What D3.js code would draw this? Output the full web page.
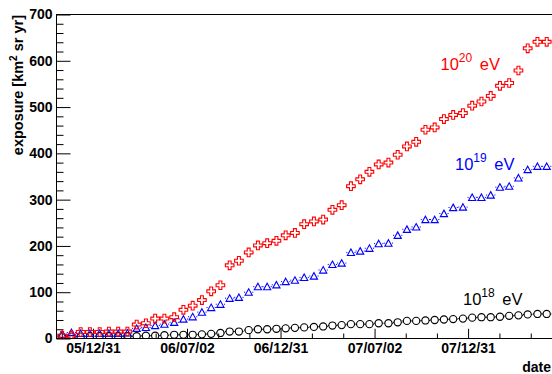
<!DOCTYPE html>
<html>
<head>
<meta charset="utf-8">
<script src="https://cdn.jsdelivr.net/npm/d3@7"></script>
<style>
  body { margin: 0; background: #fff; }
  svg { display: block; }
  text { font-family: "Liberation Sans", Arial, Helvetica, sans-serif; }
</style>
</head>
<body>
<svg id="chart" width="552" height="374"></svg>
<script>
// Accumulated exposure vs. date for three energy thresholds
const dates = [
  "2005-11-01","2005-11-19","2005-12-07","2005-12-25","2006-01-13","2006-01-31","2006-02-18","2006-03-08",
  "2006-03-26","2006-04-13","2006-05-01","2006-05-19","2006-06-07","2006-06-25","2006-07-13","2006-07-31",
  "2006-08-18","2006-09-05","2006-09-23","2006-10-11","2006-10-30","2006-11-17","2006-12-05","2006-12-23",
  "2007-01-10","2007-01-28","2007-02-15","2007-03-06","2007-03-24","2007-04-11","2007-04-29","2007-05-17",
  "2007-06-04","2007-06-22","2007-07-10","2007-07-29","2007-08-16","2007-09-03","2007-09-21","2007-10-09",
  "2007-10-27","2007-11-14","2007-12-02","2007-12-21","2008-01-08","2008-01-26","2008-02-13","2008-03-02",
  "2008-03-20","2008-04-07","2008-04-25","2008-05-14","2008-06-01"
];
const exposure18 = [
  4, 4, 4, 5, 5, 5, 5, 5, 5, 6, 6, 7, 8, 8, 8, 9,
  10, 12, 15, 15, 18, 20, 20, 21, 22, 23, 24, 25, 26, 28, 29, 31,
  31, 31, 33, 33, 35, 38, 38, 39, 40, 41, 42, 43, 45, 46, 46, 47,
  49, 50, 52, 53, 53
];
const exposure19 = [
  9, 13, 11, 11, 11, 11, 11, 12, 22, 24, 28, 31, 35, 42, 47, 57,
  67, 74, 87, 89, 100, 112, 112, 116, 123, 126, 132, 135, 148, 160, 163, 186,
  189, 195, 205, 206, 223, 236, 241, 257, 257, 270, 283, 284, 305, 305, 310, 327,
  329, 347, 365, 372, 372
];
const exposure20 = [
  6, 6, 14, 14, 14, 15, 15, 15, 30, 33, 43, 43, 46, 62, 71, 83,
  102, 115, 158, 168, 186, 201, 206, 211, 223, 228, 247, 253, 257, 278, 288, 329,
  344, 360, 376, 380, 397, 415, 425, 451, 456, 474, 483, 487, 503, 512, 524, 546,
  552, 579, 627, 641, 641
];
const yTickValues = [0, 100, 200, 300, 400, 500, 600, 700];
const dateTickDates = ["2005-12-31", "2006-07-02", "2006-12-31", "2007-07-02", "2007-12-31"];
const dateTickLabels = ["05/12/31", "06/07/02", "06/12/31", "07/07/02", "07/12/31"];
const energyLabels = [
  { base: "10", exp: "18", color: "#000000" },
  { base: "10", exp: "19", color: "#0000ff" },
  { base: "10", exp: "20", color: "#ff0000" }
];

const parse = d3.utcParse("%Y-%m-%d");
const parseT = d3.utcParse("%Y-%m-%dT%H:%M");

const plot = { left: 56.5, right: 554, top: 14.5, bottom: 338.5 };
const svg = d3.select("#chart");
svg.append("rect").attr("width", 552).attr("height", 374).attr("fill", "#fff");

const x = d3.scaleUtc()
  .domain([parse("2005-10-21"), parseT("2008-06-15T05:00")])
  .range([plot.left, plot.right]);
const y = d3.scaleLinear().domain([0, 700]).range([plot.bottom, plot.top]);

svg.append("clipPath").attr("id", "plotClip")
  .append("rect")
  .attr("x", plot.left).attr("y", plot.top)
  .attr("width", plot.right - plot.left).attr("height", plot.bottom - plot.top);

// ---- axes ----
const minorY = d3.range(0, 701, 20).filter(v => v % 100 !== 0);

const yMinor = svg.append("g").attr("transform", `translate(${plot.left},0)`)
  .call(d3.axisLeft(y).tickValues(minorY).tickSizeInner(-7).tickSizeOuter(0).tickFormat(""));
const yMajor = svg.append("g").attr("transform", `translate(${plot.left},0)`)
  .call(d3.axisLeft(y).tickValues(yTickValues).tickSizeInner(-14).tickSizeOuter(0).tickPadding(4)
    .tickFormat(d3.format("d")));

// major date ticks extended one step each side so the minor ticks continue to the frame
const majorAll = [parse("2005-07-02"), ...dateTickDates.map(parse), parse("2008-07-01")];
const minorX = [];
for (let i = 0; i < majorAll.length - 1; i++) {
  const a = +majorAll[i], b = +majorAll[i + 1];
  minorX.push(new Date(a + (b - a) / 3), new Date(a + 2 * (b - a) / 3));
}
const xTicksG = svg.append("g").attr("clip-path", "url(#plotClip)");
xTicksG.append("g").attr("transform", `translate(0,${plot.bottom})`)
  .call(d3.axisBottom(x).tickValues(minorX).tickSizeInner(-5).tickSizeOuter(0).tickFormat(""));
xTicksG.append("g").attr("transform", `translate(0,${plot.bottom})`)
  .call(d3.axisBottom(x).tickValues(majorAll).tickSizeInner(-9.75).tickSizeOuter(0).tickFormat(""));

const xLabels = svg.append("g").attr("transform", `translate(0,${plot.bottom})`)
  .call(d3.axisBottom(x).tickValues(dateTickDates.map(parse)).tickSize(0).tickPadding(4.5)
    .tickFormat((d, i) => dateTickLabels[i]));

svg.selectAll(".domain").remove();
svg.selectAll(".tick line").attr("stroke", "#000").attr("stroke-width", 1);
[yMajor, xLabels].forEach(g => g.selectAll("text")
  .attr("font-size", 14).attr("font-weight", "bold").attr("fill", "#000")
  .style("font-family", '"Liberation Sans", Arial, sans-serif'));

// frame: left, bottom and top borders
const frame = svg.append("g").attr("stroke", "#000").attr("stroke-width", 1).attr("fill", "none");
frame.append("line").attr("x1", plot.left).attr("x2", plot.left).attr("y1", plot.top).attr("y2", plot.bottom);
frame.append("line").attr("x1", plot.left - 0.5).attr("x2", 552).attr("y1", plot.bottom).attr("y2", plot.bottom);
frame.append("line").attr("x1", plot.left - 0.5).attr("x2", 552).attr("y1", plot.top).attr("y2", plot.top);

// axis titles
svg.append("text")
  .attr("transform", `translate(23,${plot.top + 0.5}) rotate(-90)`)
  .attr("text-anchor", "end")
  .attr("font-size", 14.5).attr("font-weight", "bold")
  .call(t => {
    t.append("tspan").text("exposure [km");
    t.append("tspan").attr("font-size", 10).attr("dy", -6).text("2");
    t.append("tspan").attr("dy", 6).text(" sr yr]");
  });
svg.append("text")
  .attr("x", 551).attr("y", 371.5)
  .attr("text-anchor", "end")
  .attr("font-size", 14).attr("font-weight", "bold")
  .text("date");

// ---- series ----
const halfStep = 9.07 * 24 * 3600 * 1000; // half spacing between samples, ms

const crossR = 4.3, crossA = 1.45;
const crossPath = `M${-crossA},${-crossR}H${crossA}V${-crossA}H${crossR}V${crossA}H${crossA}V${crossR}` +
  `H${-crossA}V${crossA}H${-crossR}V${-crossA}H${-crossA}Z`;
const triPath = "M0,-3.4L3.6,3.1L-3.6,3.1Z";

const series = [
  { values: exposure18, color: "#000000", gap: 3.6, shape: "circle" },
  { values: exposure19, color: "#0000ff", gap: 3.6, shape: "triangle" },
  { values: exposure20, color: "#ff0000", gap: 4.3, shape: "cross" }
];

const marks = svg.append("g").attr("clip-path", "url(#plotClip)");
series.forEach(s => {
  const pts = dates.map((d, i) => ({ t: parse(d), v: s.values[i] }));
  const g = marks.append("g");
  // horizontal bin bars, left and right of each marker
  pts.forEach(p => {
    const cx = x(p.t), cy = y(p.v);
    const xl = x(new Date(+p.t - halfStep)), xr = x(new Date(+p.t + halfStep));
    g.append("line").attr("x1", xl).attr("x2", cx - s.gap).attr("y1", cy).attr("y2", cy)
      .attr("stroke", s.color).attr("stroke-width", 1);
    g.append("line").attr("x1", cx + s.gap).attr("x2", xr).attr("y1", cy).attr("y2", cy)
      .attr("stroke", s.color).attr("stroke-width", 1);
  });
  const m = g.selectAll(".m").data(pts).enter();
  if (s.shape === "circle") {
    m.append("circle").attr("cx", p => x(p.t)).attr("cy", p => y(p.v)).attr("r", 3.6)
      .attr("fill", "none").attr("stroke", s.color).attr("stroke-width", 1.1);
  } else {
    m.append("path").attr("d", s.shape === "cross" ? crossPath : triPath)
      .attr("transform", p => `translate(${x(p.t)},${y(p.v)})`)
      .attr("fill", "none").attr("stroke", s.color).attr("stroke-width", 1.1);
  }
});

// ---- energy labels ----
const labelPos = [
  { x: 463, y: 305 },
  { x: 455, y: 170 },
  { x: 440.5, y: 70 }
];
energyLabels.forEach((l, i) => {
  const t = svg.append("text")
    .attr("x", labelPos[i].x).attr("y", labelPos[i].y)
    .attr("fill", l.color).attr("font-size", 16.5);
  t.append("tspan").text(l.base);
  t.append("tspan").attr("font-size", 12).attr("dy", -8).text(l.exp);
  t.append("tspan").attr("dy", 8).attr("dx", 3).text(" eV");
});
</script>
</body>
</html>
